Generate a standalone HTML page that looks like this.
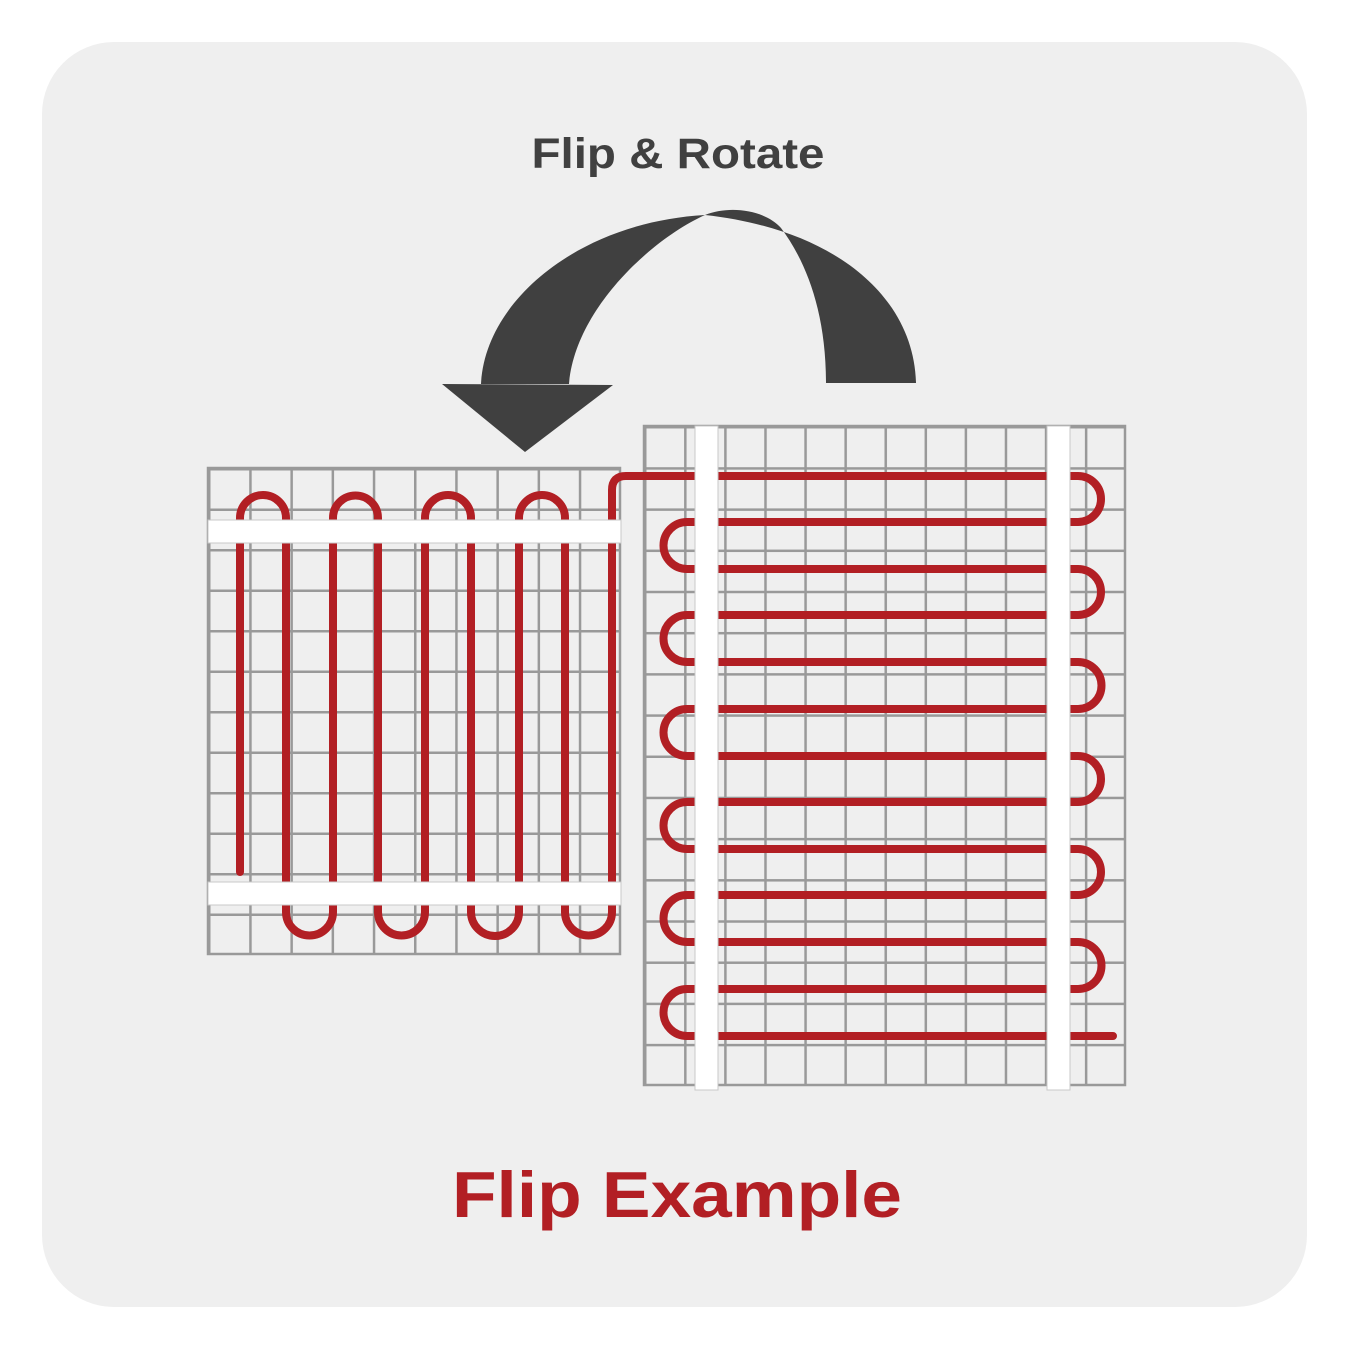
<!DOCTYPE html>
<html><head><meta charset="utf-8"><style>
html,body{margin:0;padding:0;background:#fff;}
svg{display:block;}
</style></head><body>
<svg width="1350" height="1350" viewBox="0 0 1350 1350" xmlns="http://www.w3.org/2000/svg">
<defs>
<pattern id="gl" x="208" y="468" width="41.2" height="40.5" patternUnits="userSpaceOnUse">
<path d="M0,0 H41.2 M0,0 V40.5" stroke="#999" stroke-width="5" fill="none"/>
</pattern>
<pattern id="gr" x="644" y="426" width="40.08" height="41.19" patternUnits="userSpaceOnUse">
<path d="M0,0 H40.08 M0,0 V41.19" stroke="#999" stroke-width="5" fill="none"/>
</pattern>
</defs>
<rect x="42" y="42" width="1265" height="1265" rx="72" fill="#efefef"/>
<text x="678" y="168" text-anchor="middle" font-family="Liberation Sans, sans-serif" font-weight="bold" font-size="43" fill="#404040" textLength="293" lengthAdjust="spacingAndGlyphs">Flip &amp; Rotate</text>
<g fill="#404040">
<path d="M481,384 C485,300 580,222 705,215 C650,240 575,310 569,384 Z"/>
<polygon points="442,384 613,385 525,452"/>
<path d="M705,215 C730,205 765,210 781,228 C805,260 826,310 826,383 L916,383 C914,300 840,230 705,215 Z"/>
</g>
<rect x="208" y="468" width="412" height="486" fill="url(#gl)" stroke="#999" stroke-width="2.5"/>
<rect x="644" y="426" width="481" height="659" fill="url(#gr)" stroke="#999" stroke-width="2.5"/>
<path fill="none" stroke="#b21f24" stroke-width="8" stroke-linecap="round" stroke-linejoin="round" d="
M240,872 L240,518 A23,23 0 0 1 286,518 L286,912 A23.5,23.5 0 0 0 333,912 L333,518 A22.5,22.5 0 0 1 378,518
L378,912 A23.5,23.5 0 0 0 425,912 L425,518 A23,23 0 0 1 471,518 L471,912 A24,24 0 0 0 519,912
L519,518 A23,23 0 0 1 565,518 L565,912 A23.5,23.5 0 0 0 612,912 L612,490 Q612,476 626,476
L1078,476 A23,23 0 0 1 1078,522 L687,522 A23.5,23.5 0 0 0 687,569
L1078,569 A23,23 0 0 1 1078,615 L687,615 A23.5,23.5 0 0 0 687,662
L1078,662 A23.5,23.5 0 0 1 1078,709 L687,709 A23.5,23.5 0 0 0 687,756
L1078,756 A23,23 0 0 1 1078,802 L687,802 A23.5,23.5 0 0 0 687,849
L1078,849 A23,23 0 0 1 1078,895 L687,895 A23.5,23.5 0 0 0 687,942
L1078,942 A23.5,23.5 0 0 1 1078,989 L687,989 A23.5,23.5 0 0 0 687,1036 L1113,1036"/>
<g fill="#ffffff" stroke="#c8c8c8" stroke-width="1">
<rect x="208" y="520" width="413" height="23"/>
<rect x="208" y="882" width="413" height="23"/>
<rect x="695" y="426" width="23" height="664"/>
<rect x="1047" y="426" width="23" height="664"/>
</g>
<text x="677" y="1217" text-anchor="middle" font-family="Liberation Sans, sans-serif" font-weight="bold" font-size="65" fill="#b21f24" textLength="450" lengthAdjust="spacingAndGlyphs">Flip Example</text>
</svg>
</body></html>
